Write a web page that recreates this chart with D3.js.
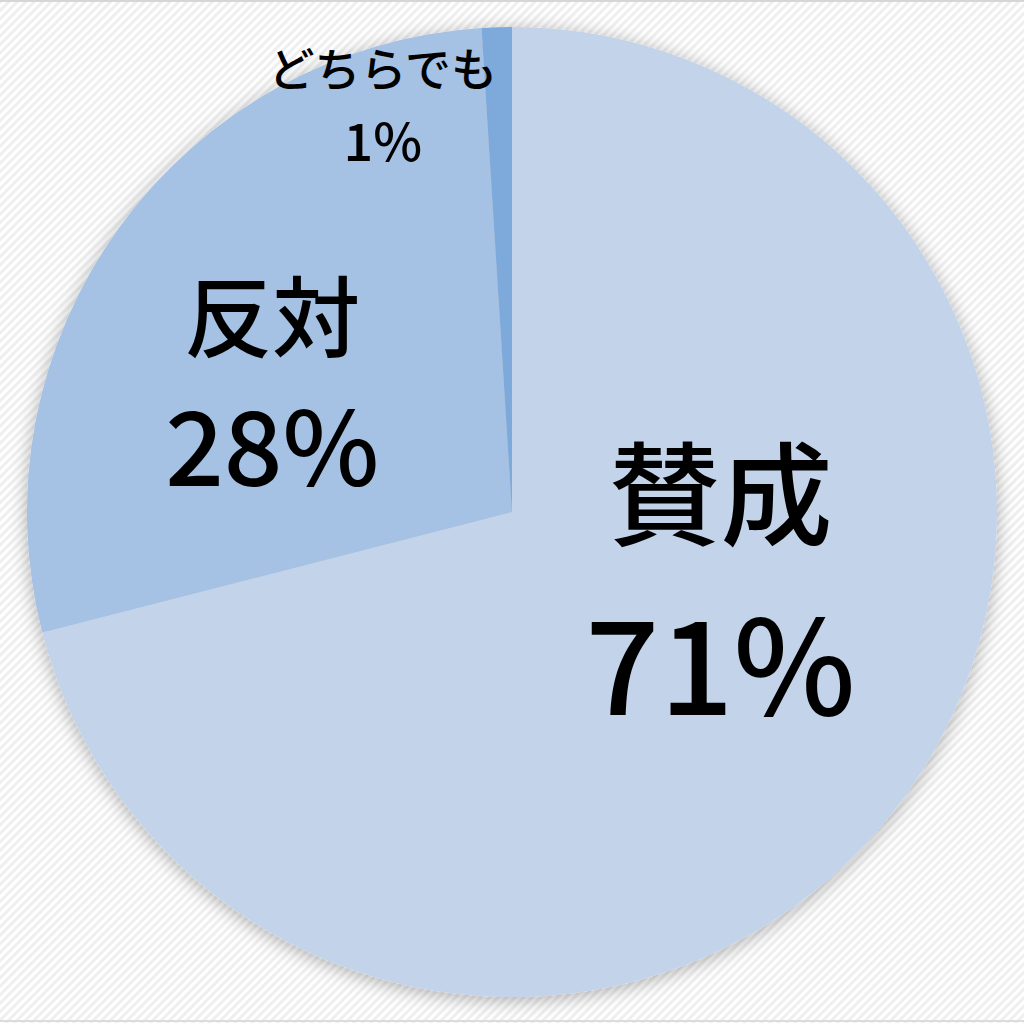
<!DOCTYPE html>
<html>
<head>
<meta charset="utf-8">
<script src="https://cdn.jsdelivr.net/npm/d3@7"></script>
<style>
	html, body { margin: 0; padding: 0; background: #fff; }
	svg { display: block; }
	.label { font-family: "Noto Sans CJK JP", "Noto Sans", sans-serif; font-weight: 500; fill: #000; }
</style>
</head>
<body>
<div id="chart"></div>
<script>
// data
const categories = ['賛成', '反対', 'どちらでも'];
const values = [71, 28, 1];
const colors = ['#c3d4ea', '#a5c1e4', '#7eaadb'];

// label layout (px nudge from slice centroid, font sizes)
const labelOpts = [
	{ r: 0.45, dx: 36, dy: -73, nameSize: 112, pctSize: 130, gap: 170 },
	{ r: 0.55, dx: -24, dy: 21, nameSize: 88, pctSize: 103, gap: 130 },
	{ r: 0.8, dx: -117, dy: -22, nameSize: 46, pctSize: 52, gap: 72 }
];

const options = {
	w: 1024,
	h: 1023,
	cx: 512,
	cy: 512,
	outerRadius: 485
};

const svg = d3.select('#chart')
	.append('svg')
	.attr('width', options.w)
	.attr('height', options.h)
	.attr('viewBox', `0 0 ${options.w} ${options.h}`);

const defs = svg.append('defs');

// striped background
const pat = defs.append('pattern')
	.attr('id', 'stripes')
	.attr('patternUnits', 'userSpaceOnUse')
	.attr('width', 6)
	.attr('height', 6)
	.attr('patternTransform', 'rotate(45)');
pat.append('rect').attr('width', 6).attr('height', 6).attr('fill', '#ffffff');
pat.append('rect').attr('width', 3).attr('height', 6).attr('fill', '#efefef');

const shadow = defs.append('filter')
	.attr('id', 'shadow')
	.attr('x', '-20%').attr('y', '-20%')
	.attr('width', '140%').attr('height', '140%');
shadow.append('feDropShadow')
	.attr('dx', 0)
	.attr('dy', 3)
	.attr('stdDeviation', 9)
	.attr('flood-color', '#000')
	.attr('flood-opacity', 0.3);

svg.append('rect')
	.attr('width', options.w)
	.attr('height', options.h)
	.attr('fill', 'url(#stripes)');

svg.append('line')
	.attr('x1', 0).attr('x2', options.w)
	.attr('y1', 1).attr('y2', 1)
	.attr('stroke', '#d6d6d6').attr('stroke-width', 2);
svg.append('line')
	.attr('x1', 0).attr('x2', options.w)
	.attr('y1', options.h - 2).attr('y2', options.h - 2)
	.attr('stroke', '#dcdcdc').attr('stroke-width', 2);

const data = categories.map((c, i) => ({ item: c, value: values[i] }));
const total = d3.sum(values);

const pie = d3.pie()
	.value(d => d.value)
	.sort(null);

const arc = d3.arc()
	.innerRadius(0)
	.outerRadius(options.outerRadius);

const color = d3.scaleOrdinal().domain(categories).range(colors);

const g = svg.append('g')
	.attr('transform', `translate(${options.cx}, ${options.cy})`);

const arcs = pie(data);

g.append('g')
	.attr('filter', 'url(#shadow)')
	.selectAll('path')
	.data(arcs)
	.enter()
	.append('path')
	.attr('d', arc)
	.attr('fill', d => color(d.data.item));

const labels = g.selectAll('.label')
	.data(arcs)
	.enter()
	.append('g')
	.attr('transform', (d, i) => {
		const o = labelOpts[i];
		const la = d3.arc().innerRadius(options.outerRadius * o.r).outerRadius(options.outerRadius * o.r);
		const [x, y] = la.centroid(d);
		return `translate(${x + o.dx}, ${y + o.dy})`;
	});

labels.append('text')
	.classed('label', true)
	.attr('text-anchor', 'middle')
	.attr('y', (d, i) => -labelOpts[i].gap / 2)
	.attr('dominant-baseline', 'central')
	.style('font-size', (d, i) => labelOpts[i].nameSize + 'px')
	.text(d => d.data.item);

labels.append('text')
	.classed('label', true)
	.attr('text-anchor', 'middle')
	.attr('y', (d, i) => labelOpts[i].gap / 2)
	.attr('dominant-baseline', 'central')
	.style('font-size', (d, i) => labelOpts[i].pctSize + 'px')
	.text(d => Math.round(d.data.value / total * 100) + '%');
</script>
</body>
</html>
